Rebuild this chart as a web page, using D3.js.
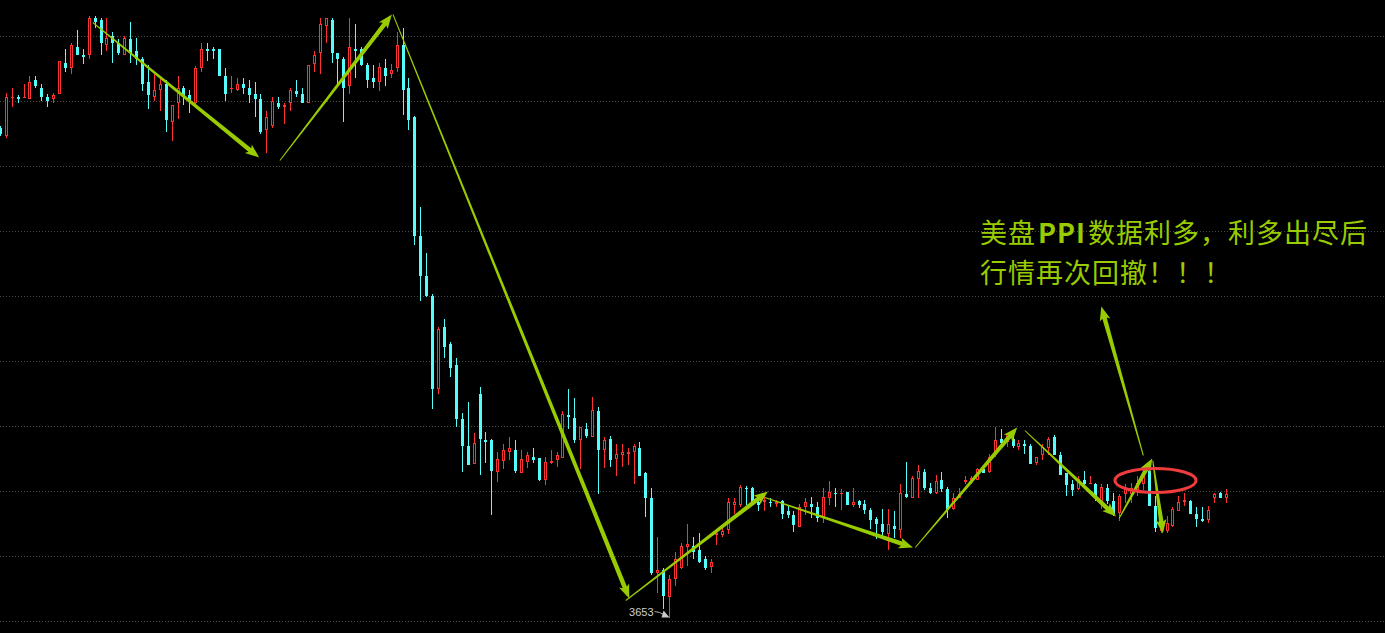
<!DOCTYPE html>
<html><head><meta charset="utf-8">
<script src="https://cdn.jsdelivr.net/npm/d3@7"></script>
<style>html,body{margin:0;padding:0;background:#000;overflow:hidden}</style>
</head><body>
<svg id="chart" width="1385" height="633"></svg>
<script>
// ---- data (prices) ----
const opens = [
4143,4134,4173,4174,4173,4172,4190,4183,4174,4172,
4177,4208,4202,4224,4216,4215,4253,4251,4226,4234,
4227,4216,4232,4220,4212,4189,4173,4181,4186,4149,
4167,4182,4175,4167,4203,4221,4222,4221,4195,4182,
4181,4186,4182,4177,4172,4140,4145,4168,4163,4167,
4180,4177,4167,4207,4217,4244,4251,4217,4211,4184,
4222,4222,4206,4193,4189,4203,4196,4202,4226,4183,
4154,4034,3995,3975,3882,3944,3927,3905,3852,3825,
3807,3877,3831,3831,3799,3810,3818,3821,3798,3809,
3814,3813,3791,3808,3811,3813,3856,3853,3831,3842,
3834,3860,3821,3832,3812,3816,3817,3818,3823,3797,
3773,3698,3701,3674,3692,3703,3724,3725,3721,3712,
3704,3736,3736,3741,3766,3766,3783,3783,3769,3769,
3769,3767,3770,3760,3756,3744,3764,3767,3764,3753,
3772,3778,3776,3779,3766,3770,3767,3761,3752,3747,
3737,3745,3741,3777,3773,3792,3799,3783,3778,3791,
3782,3762,3773,3789,3789,3791,3802,3799,3816,3832,
3829,3832,3824,3827,3825,3808,3816,3822,3834,3816,
3797,3787,3782,3791,3787,3787,3767,3783,3770,3758,
3777,3777,3780,3787,3800,3765,3740,3740,3745,3760,
3769,3770,3757,3752,3751,3772,3778,3772];
const highs = [
4145,4178,4182,4176,4187,4194,4194,4186,4177,4178,
4209,4222,4227,4241,4222,4254,4254,4253,4253,4239,
4232,4234,4248,4233,4213,4206,4197,4194,4190,4165,
4195,4185,4181,4205,4228,4228,4224,4222,4203,4195,
4193,4193,4191,4189,4177,4160,4173,4174,4168,4183,
4191,4182,4206,4220,4253,4253,4253,4217,4213,4253,
4247,4224,4208,4206,4208,4211,4207,4238,4243,4193,
4155,4063,4017,3977,3944,3952,3929,3913,3858,3868,
3838,3884,3839,3832,3818,3827,3834,3830,3821,3818,
3823,3813,3814,3821,3819,3860,3882,3873,3843,3847,
3874,3864,3834,3835,3826,3826,3822,3827,3829,3799,
3783,3734,3703,3696,3719,3728,3747,3734,3738,3715,
3712,3741,3744,3772,3773,3786,3785,3784,3772,3775,
3773,3771,3771,3765,3760,3767,3773,3774,3769,3783,
3790,3783,3782,3779,3783,3771,3771,3763,3754,3762,
3762,3760,3787,3809,3795,3805,3801,3788,3796,3799,
3784,3778,3783,3795,3795,3803,3803,3817,3843,3842,
3838,3837,3830,3830,3827,3814,3826,3834,3836,3818,
3798,3791,3795,3800,3795,3788,3787,3787,3778,3777,
3787,3788,3795,3802,3808,3775,3757,3755,3764,3775,
3778,3771,3764,3764,3765,3778,3779,3782];
const lows = [
4134,4133,4163,4167,4173,4171,4182,4170,4164,4167,
4177,4199,4197,4216,4207,4212,4243,4215,4220,4208,
4216,4215,4208,4206,4180,4161,4169,4159,4139,4130,
4152,4165,4157,4166,4198,4209,4211,4195,4170,4178,
4180,4177,4168,4154,4137,4117,4143,4162,4147,4159,
4173,4167,4167,4198,4197,4228,4208,4186,4148,4177,
4193,4205,4182,4183,4180,4185,4192,4198,4156,4141,
4026,3970,3974,3862,3876,3913,3894,3844,3799,3805,
3807,3796,3808,3756,3789,3801,3811,3798,3798,3803,
3808,3790,3786,3807,3804,3813,3842,3828,3801,3833,
3834,3777,3803,3804,3795,3804,3806,3787,3795,3754,
3696,3678,3662,3653,3685,3702,3705,3712,3708,3701,
3698,3726,3734,3737,3757,3764,3766,3766,3760,3760,
3764,3764,3752,3753,3739,3744,3756,3753,3749,3748,
3766,3764,3761,3766,3764,3763,3757,3742,3732,3735,
3721,3733,3733,3773,3773,3773,3781,3776,3777,3779,
3753,3761,3772,3787,3787,3791,3797,3798,3814,3823,
3824,3823,3821,3817,3807,3805,3811,3816,3816,3796,
3775,3775,3781,3782,3787,3770,3762,3767,3755,3750,
3768,3768,3775,3780,3765,3739,3738,3738,3744,3760,
3765,3757,3744,3749,3748,3768,3773,3768];
const closes = [
4136,4173,4174,4172,4174,4189,4184,4173,4169,4176,
4209,4203,4225,4216,4213,4253,4249,4227,4233,4227,
4218,4233,4218,4211,4187,4175,4181,4186,4150,4165,
4183,4173,4170,4203,4222,4220,4219,4195,4177,4183,
4187,4182,4175,4172,4138,4154,4169,4163,4165,4181,
4177,4168,4206,4216,4246,4252,4217,4211,4182,4224,
4219,4206,4190,4188,4204,4194,4200,4225,4181,4151,
4034,3995,3975,3882,3942,3924,3903,3851,3825,3805,
3828,3832,3829,3800,3812,3821,3822,3800,3812,3816,
3811,3791,3809,3810,3816,3857,3854,3831,3843,3835,
3861,3821,3831,3811,3817,3818,3818,3825,3795,3773,
3698,3701,3675,3692,3712,3725,3727,3719,3709,3703,
3709,3738,3740,3769,3769,3784,3782,3767,3766,3771,
3768,3769,3757,3756,3746,3764,3769,3764,3753,3774,
3779,3777,3778,3766,3769,3766,3761,3751,3747,3739,
3747,3742,3778,3774,3793,3800,3783,3778,3790,3782,
3761,3773,3777,3791,3793,3802,3798,3814,3831,3828,
3837,3825,3828,3825,3807,3814,3824,3832,3816,3796,
3786,3781,3792,3787,3788,3773,3784,3770,3757,3775,
3782,3783,3788,3795,3765,3743,3747,3748,3762,3769,
3771,3757,3752,3750,3761,3777,3773,3777];
const gridLevels = [4234,4169,4104,4039,3974,3909,3844,3779,3714,3649];
const lowLabel = "3653";
const noteLine1 = ["美盘", "PPI", "数据利多，利多出尽后"];
const noteLine2 = "行情再次回撤！！！";
// trend arrows: [candle index, price] tail -> head
const arrowTails = [[15.6,4248],[47.2,4110],[66.3,4256],[105.6,3670],[129.1,3773],[154.5,3723],[173.0,3840],[188.9,3752],[194.6,3810],[193.0,3815]];
const arrowHeads = [[43.7,4113],[66.1,4256],[106.2,3672],[129.6,3779],[154.1,3723],[171.7,3843],[188.4,3754],[194.5,3812],[196.3,3737],[185.9,3964]];
const ringX = [188.2, 201.9];
const ringY = [3802, 3778];

// ---- drawing ----
const W = 1385, H = 633;
const svg = d3.select("#chart");
svg.append("rect").attr("width", W).attr("height", H).attr("fill", "#000");
const n = opens.length;
const x = d3.scaleLinear().domain([0, n - 1]).range([0.38, 0.38 + (n - 1) * 5.922]);
const y = d3.scaleLinear().domain([3637.5, 4270.5]).range([H, 0]);

svg.append("g").selectAll("line").data(gridLevels).join("line")
  .attr("x1", 0).attr("x2", W)
  .attr("y1", d => Math.floor(y(d)) + 0.5).attr("y2", d => Math.floor(y(d)) + 0.5)
  .attr("stroke", "#4a4a4a").attr("stroke-width", 1).attr("stroke-dasharray", "1,2");

const UP = "#FF3232", DOWN = "#54FCFC";
const cg = svg.append("g");
d3.range(n).forEach(i => {
  const o = opens[i], c = closes[i], h = highs[i], l = lows[i];
  const cx = Math.floor(x(i)) + 0.5;
  const top = Math.round(y(Math.max(o, c))), bot = Math.round(y(Math.min(o, c)));
  const yh = Math.round(y(h)), yl = Math.round(y(l));
  if (c >= o) {
    if (yh < top) cg.append("line").attr("x1", cx).attr("x2", cx).attr("y1", yh).attr("y2", top).attr("stroke", UP);
    if (yl > bot) cg.append("line").attr("x1", cx).attr("x2", cx).attr("y1", bot).attr("y2", yl).attr("stroke", UP);
    if (bot - top >= 2) {
      cg.append("rect").attr("x", cx - 1).attr("y", top + 0.5).attr("width", 2).attr("height", bot - top - 1)
        .attr("fill", "#000").attr("stroke", UP).attr("stroke-width", 1);
    } else {
      cg.append("rect").attr("x", cx - 1.5).attr("y", top).attr("width", 3).attr("height", Math.max(1, bot - top)).attr("fill", UP);
    }
  } else {
    cg.append("line").attr("x1", cx).attr("x2", cx).attr("y1", yh).attr("y2", yl).attr("stroke", DOWN);
    cg.append("rect").attr("x", cx - 1.5).attr("y", top).attr("width", 3).attr("height", Math.max(1, bot - top)).attr("fill", DOWN);
  }
});

// low marker
const li = lows.indexOf(d3.min(lows));
const lx = x(li), ly = y(lows[li]);
svg.append("text").attr("x", lx - 16).attr("y", ly - 2).attr("text-anchor", "end")
  .attr("font-family", "Liberation Sans, Arial, sans-serif").attr("font-size", 11).attr("fill", "#d0d0d0").text(lowLabel);
svg.append("path").attr("d", `M${lx-15},${ly-6} L${lx-10},${ly-5} L${lx-6},${ly-3}`).attr("stroke", "#aaa").attr("fill", "none").attr("stroke-width", 1);
svg.append("polygon").attr("points", `${lx-6},${ly-7} ${lx},${ly} ${lx-8},${ly}`).attr("fill", "#c8c8c8");

// arrows
function taper(p0, p1, w0, w1, hl, hw) {
  const dx = p1[0] - p0[0], dy = p1[1] - p0[1], L = Math.hypot(dx, dy);
  const ux = dx / L, uy = dy / L, nx = -uy, ny = ux;
  const bx = p1[0] - ux * hl, by = p1[1] - uy * hl;
  const pts = [
    [p0[0] + nx * w0 / 2, p0[1] + ny * w0 / 2],
    [bx + nx * w1 / 2, by + ny * w1 / 2],
    [bx + nx * hw / 2 - ux * 2, by + ny * hw / 2 - uy * 2],
    p1,
    [bx - nx * hw / 2 - ux * 2, by - ny * hw / 2 - uy * 2],
    [bx - nx * w1 / 2, by - ny * w1 / 2],
    [p0[0] - nx * w0 / 2, p0[1] - ny * w0 / 2]];
  return pts.map(p => p.join(",")).join(" ");
}
const ag = svg.append("g");
arrowTails.forEach((t, k) => {
  const p0 = [x(t[0]), y(t[1])], p1 = [x(arrowHeads[k][0]), y(arrowHeads[k][1])];
  ag.append("polygon").attr("points", taper(p0, p1, 1, 4.5, 12, 11)).attr("fill", "#99CC00");
});

// red ring
svg.append("ellipse")
  .attr("cx", (x(ringX[0]) + x(ringX[1])) / 2).attr("cy", (y(ringY[0]) + y(ringY[1])) / 2)
  .attr("rx", (x(ringX[1]) - x(ringX[0])) / 2).attr("ry", (y(ringY[1]) - y(ringY[0])) / 2)
  .attr("fill", "none").attr("stroke", "#F03C3C").attr("stroke-width", 3);

// annotation text (pieces placed one after another, small gaps around the Latin part)
const FS = 27;
let tx = 980;
noteLine1.forEach((s, k) => {
  const t = svg.append("text").attr("x", tx).attr("y", 243)
    .attr("font-family", "Noto Sans CJK SC").attr("font-size", FS).attr("fill", "#99CC00")
    .attr("letter-spacing", 1).attr("font-weight", k === 1 ? "bold" : "normal").text(s);
  tx += t.node().getComputedTextLength() + 2;
});
svg.append("text").attr("x", 980).attr("y", 283).attr("letter-spacing", 1)
  .attr("font-family", "Noto Sans CJK SC").attr("font-size", FS).attr("fill", "#99CC00").text(noteLine2);
</script>
</body></html>
